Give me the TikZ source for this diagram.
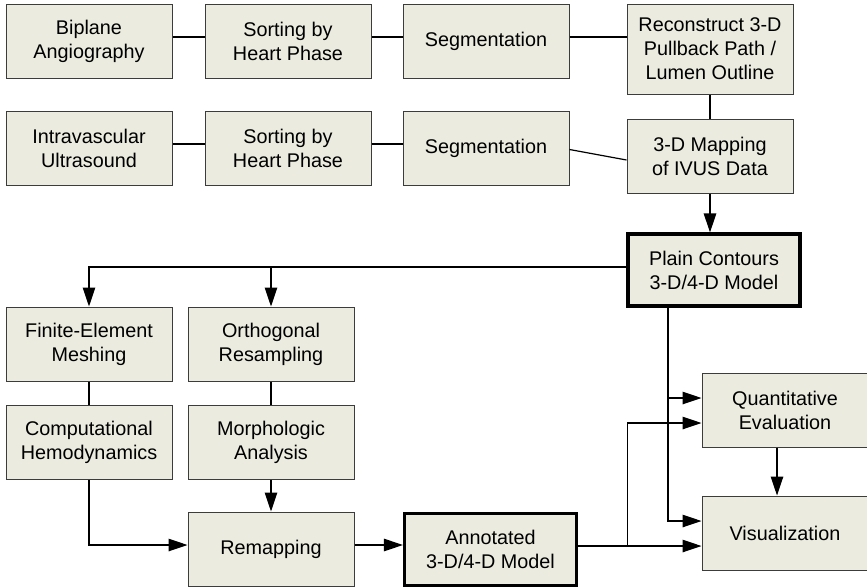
\documentclass[tikz,border=0pt]{standalone}
\usepackage{fontspec}
\setmainfont{Liberation Sans}
\usetikzlibrary{arrows.meta,calc}
\definecolor{boxfill}{RGB}{236,235,223}
\definecolor{boxline}{RGB}{60,60,60}
\begin{document}
\begin{tikzpicture}[x=1pt,y=-1pt,
  box/.style={draw=boxline,line width=1pt,fill=boxfill,minimum width=166pt,minimum height=74pt,
    inner sep=0pt,align=center,font=\fontsize{19.8}{24}\selectfont},
  bigbox/.style={box,draw=black,line width=3.2pt,minimum width=172pt,minimum height=72pt},
  conn/.style={line width=1.2pt,black},
  arr/.style={conn,-{Triangle[length=19pt,width=12.5pt]}}]
\useasboundingbox (0,0) rectangle (867,587);
% row 1
\node[box] (bip) at (89,41) {Biplane\\Angiography};
\node[box] (sort1) at (288,41) {Sorting by\\Heart Phase};
\node[box] (seg1) at (486,41) {Segmentation};
\node[box,minimum height=90pt] (recon) at (710,49) {Reconstruct 3-D\\Pullback Path /\\Lumen Outline};
% row 2
\node[box] (ivus) at (89,148) {Intravascular\\Ultrasound};
\node[box] (sort2) at (288,148) {Sorting by\\Heart Phase};
\node[box] (seg2) at (486,148) {Segmentation};
\node[box] (map) at (710,156) {3-D Mapping\\of IVUS Data};
% plain
\node[bigbox] (plain) at (714,270) {Plain Contours\\3-D/4-D Model};
% left columns
\node[box] (fem) at (89,344) {Finite-Element\\Meshing};
\node[box] (orth) at (271,344) {Orthogonal\\Resampling};
\node[box] (comp) at (89,442.5) {Computational\\Hemodynamics};
\node[box] (morph) at (271,442.5) {Morphologic\\Analysis};
\node[box] (remap) at (271,549) {Remapping};
\node[bigbox] (ann) at (490.5,549.5) {Annotated\\3-D/4-D Model};
\node[box] (quant) at (785,410) {Quantitative\\Evaluation};
\node[box] (vis) at (785,533) {Visualization};
% row connectors
\draw[conn] ([yshift=4pt]bip.east) -- ([yshift=4pt]sort1.west);
\draw[conn] ([yshift=4pt]sort1.east) -- ([yshift=4pt]seg1.west);
\coordinate (s1) at ([yshift=4pt]seg1.east);
\draw[conn] (s1) -- (recon.west |- s1);
\draw[conn] ([yshift=4pt]ivus.east) -- ([yshift=4pt]sort2.west);
\draw[conn] ([yshift=4pt]sort2.east) -- ([yshift=4pt]seg2.west);
\draw[conn] ([yshift=-1.5pt]seg2.east) -- ([yshift=-4pt]map.west);
\draw[conn] (recon.south) -- (map.north);
\draw[arr] (map.south) -- (map.south |- plain.north);
% plain to left
\coordinate (pl) at ([yshift=3pt]plain.west);
\draw[arr] (pl) -| (fem.north);
\draw[arr] (orth.north |- pl) -- (orth.north);
\draw[conn] (fem.south) -- (comp.north);
\draw[conn] (orth.south) -- (morph.north);
\draw[arr] (morph.south) -- (remap.north);
\coordinate (rl) at ([yshift=4pt]remap.west);
\draw[arr] (comp.south) |- (rl);
\coordinate (re) at ([yshift=4pt]remap.east);
\draw[arr] (re) -- (ann.west |- re);
% plain down
\coordinate (pd) at ([xshift=-46pt]plain.south);
\coordinate (q1) at ([yshift=12pt]quant.west);
\coordinate (v1) at ([yshift=12pt]vis.west);
\draw[arr] (pd) |- (v1);
\draw[arr] (pd |- q1) -- (q1);
% annotated
\coordinate (q2) at ([yshift=-13pt]quant.west);
\coordinate (v2) at ([yshift=-13pt]vis.west);
\draw[arr] (ann.east |- v2) -- (v2);
\draw[arr] ($(ann.east |- v2)!0.4!(v2)$) |- (q2);
\draw[arr] ([xshift=-8pt]quant.south) -- ([xshift=-8pt]vis.north);
\end{tikzpicture}
\end{document}
